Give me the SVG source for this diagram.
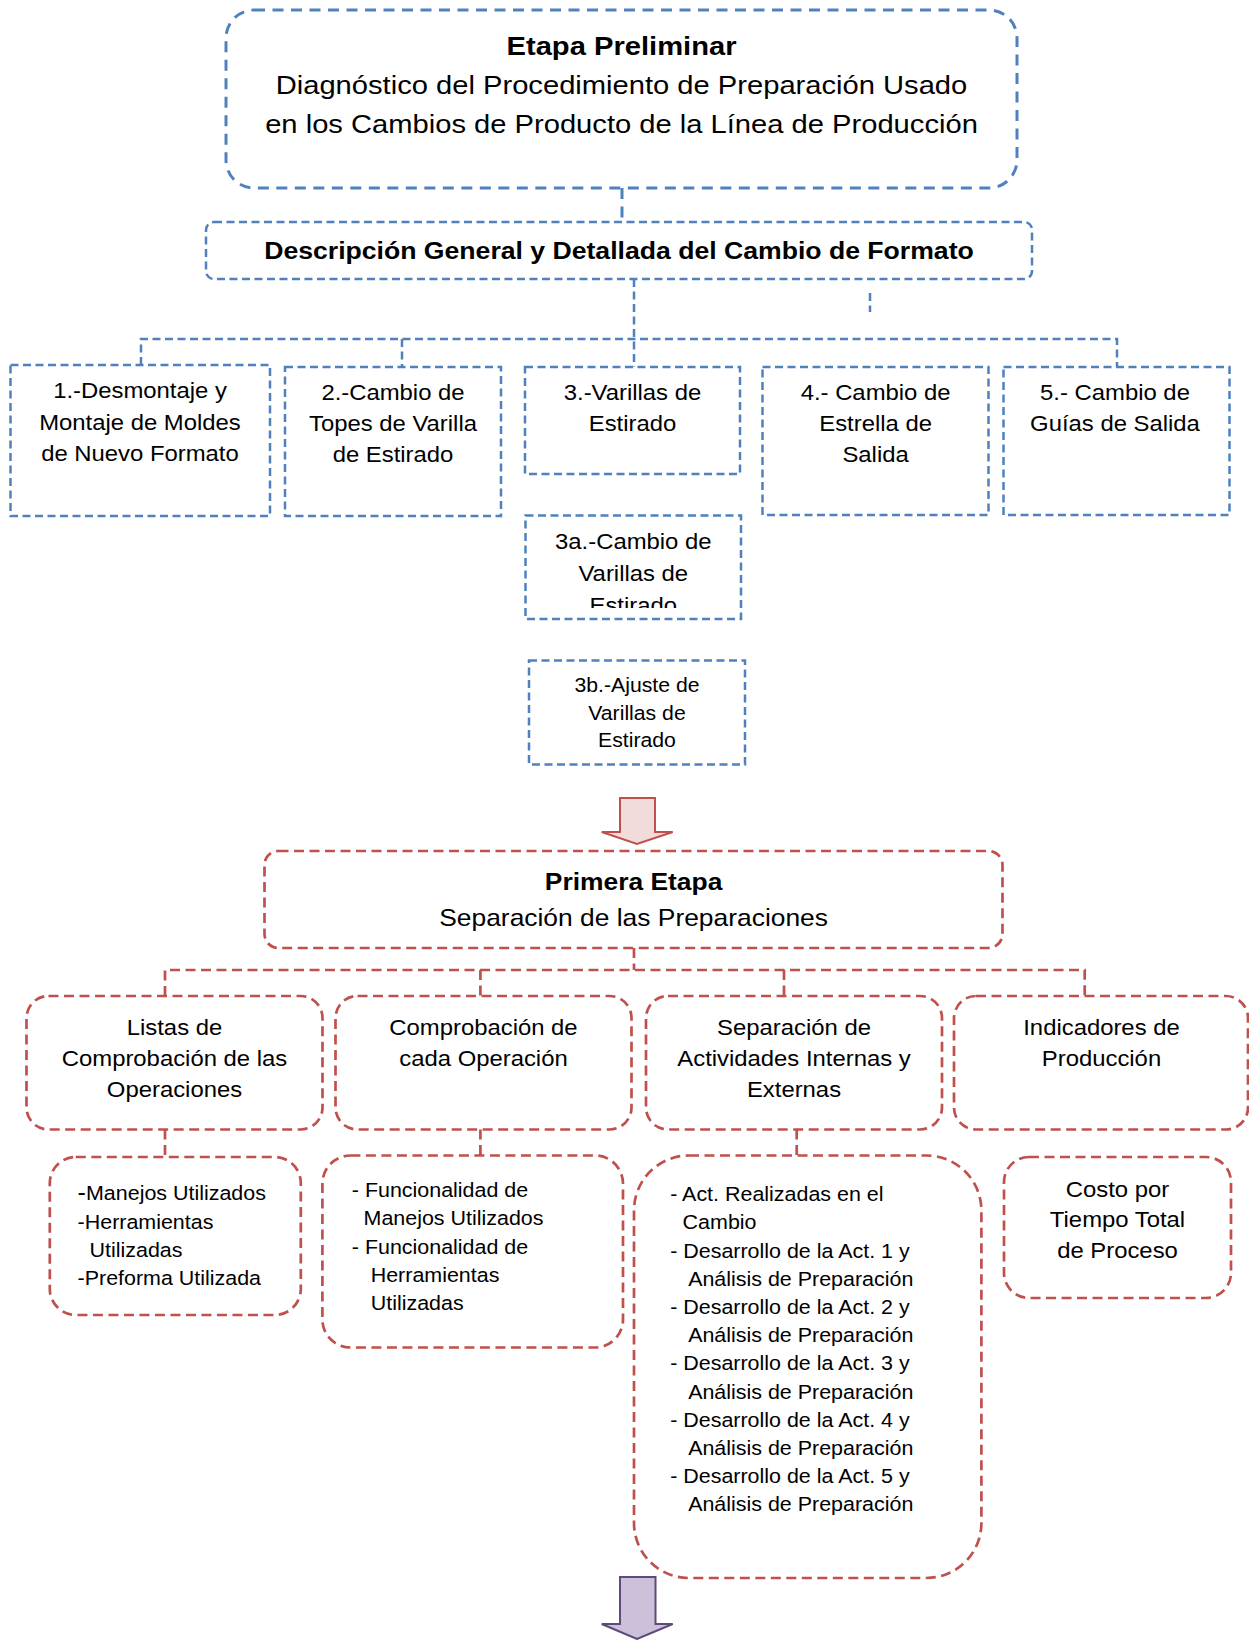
<svg xmlns="http://www.w3.org/2000/svg" width="1249" height="1640" viewBox="0 0 1249 1640">
<style>
text { font-family: "Liberation Sans", Arial, sans-serif; fill: #000; }
.c { text-anchor: middle; }
.b { font-weight: bold; }
.blue { fill: none; stroke: #4f81bd; stroke-width: 2.5; stroke-dasharray: 8 4.5; }
.blueT { fill: none; stroke: #4f81bd; stroke-width: 3; stroke-dasharray: 11 7.5; }
.red { fill: none; stroke: #c0504d; stroke-width: 2.7; stroke-dasharray: 10 5.5; }
.f26 { font-size: 26.5px; }
.f24 { font-size: 24.2px; }
.f22 { font-size: 21.7px; }
.f19 { font-size: 19.5px; }
</style>
<defs>
<clipPath id="clip3a"><rect x="525" y="515" width="217" height="93"/></clipPath>
</defs>
<rect x="0" y="0" width="1249" height="1640" fill="#fff"/>

<g id="connectors">
<line class="blueT" x1="622" y1="188" x2="622" y2="222"/>
<path class="blue" d="M634 279 V367 M141 365 V339 H1117 V367 M402 339 V367"/>
<line class="blue" x1="870" y1="293" x2="870" y2="312"/>
<path class="red" d="M634 948 V970 M165 996 V970 H1084.7 V996 M480.4 970 V996 M784 970 V996"/>
<path class="red" d="M165 1129.5 V1157 M480.4 1129.5 V1155.5 M796.7 1129.5 V1155.5"/>
</g>

<g id="n-preliminar">
<rect class="blueT" x="226" y="10" width="791" height="178" rx="28"/>
<g transform="matrix(1.1 0 0 1 -62.15 0)">
<text class="c b f26" x="621.5" y="55">Etapa Preliminar</text>
<text class="c f26" x="621.5" y="94">Diagnóstico del Procedimiento de Preparación Usado</text>
<text class="c f26" x="621.5" y="133">en los Cambios de Producto de la Línea de Producción</text>
</g>
</g>

<g id="n-descripcion">
<rect class="blue" x="206" y="222" width="826" height="57" rx="8"/>
<g transform="matrix(1.1 0 0 1 -61.9 0)">
<text class="c b f24" x="619" y="259">Descripción General y Detallada del Cambio de Formato</text>
</g>
</g>

<g id="n-1">
<rect class="blue" x="10.5" y="365" width="259.5" height="151"/>
<g transform="matrix(1.1 0 0 1 -14 0)">
<text class="c f22" x="140" y="398">1.-Desmontaje y</text>
<text class="c f22" x="140" y="430">Montaje de Moldes</text>
<text class="c f22" x="140" y="461">de Nuevo Formato</text>
</g>
</g>

<g id="n-2">
<rect class="blue" x="285" y="367" width="216" height="149"/>
<g transform="matrix(1.1 0 0 1 -39.3 0)">
<text class="c f22" x="393" y="400">2.-Cambio de</text>
<text class="c f22" x="393" y="431.5">Topes de Varilla</text>
<text class="c f22" x="393" y="462.5">de Estirado</text>
</g>
</g>

<g id="n-3">
<rect class="blue" x="525" y="367" width="215" height="107"/>
<g transform="matrix(1.1 0 0 1 -63.25 0)">
<text class="c f22" x="632.5" y="400">3.-Varillas de</text>
<text class="c f22" x="632.5" y="431.5">Estirado</text>
</g>
</g>

<g id="n-4">
<rect class="blue" x="762.5" y="367" width="226" height="148"/>
<g transform="matrix(1.1 0 0 1 -87.56 0)">
<text class="c f22" x="875.6" y="400">4.- Cambio de</text>
<text class="c f22" x="875.6" y="431.5">Estrella de</text>
<text class="c f22" x="875.6" y="462.5">Salida</text>
</g>
</g>

<g id="n-5">
<rect class="blue" x="1003.5" y="367" width="226" height="148"/>
<g transform="matrix(1.1 0 0 1 -111.5 0)">
<text class="c f22" x="1115" y="400">5.- Cambio de</text>
<text class="c f22" x="1115" y="431.5">Guías de Salida</text>
</g>
</g>

<g id="n-3a">
<rect class="blue" x="525.5" y="515.5" width="215.5" height="103.5"/>
<g clip-path="url(#clip3a)">
<g transform="matrix(1.1 0 0 1 -63.33 0)">
<text class="c f22" x="633.3" y="549">3a.-Cambio de</text>
<text class="c f22" x="633.3" y="581">Varillas de</text>
<text class="c f22" x="633.3" y="613">Estirado</text>
</g>
</g>
</g>

<g id="n-3b">
<rect class="blue" x="529" y="660.5" width="216" height="104"/>
<g transform="matrix(1.1 0 0 1 -63.7 0)">
<text class="c" style="font-size:19.3px" x="637" y="692.5">3b.-Ajuste de</text>
<text class="c" style="font-size:19.3px" x="637" y="720">Varillas de</text>
<text class="c" style="font-size:19.3px" x="637" y="747.3">Estirado</text>
</g>
</g>

<g id="arrow-1">
<polygon points="620,798 655,798 655,832 672.7,832 637,844 601.7,832 620,832" fill="#f2dcdb" stroke="#c0504d" stroke-width="2"/>
</g>

<g id="n-primera">
<rect class="red" x="264.5" y="851" width="738" height="97" rx="14"/>
<g transform="matrix(1.1 0 0 1 -63.36 0)">
<text class="c b" style="font-size:24px" x="633.6" y="890.5">Primera Etapa</text>
<text class="c" style="font-size:24px" x="633.6" y="926.5">Separación de las Preparaciones</text>
</g>
</g>

<g id="n-listas">
<rect class="red" x="26.5" y="996" width="296" height="133.5" rx="22"/>
<g transform="matrix(1.1 0 0 1 -17.45 0)">
<text class="c f22" x="174.5" y="1035">Listas de</text>
<text class="c f22" x="174.5" y="1066.5">Comprobación de las</text>
<text class="c f22" x="174.5" y="1097">Operaciones</text>
</g>
</g>

<g id="n-comprobacion">
<rect class="red" x="335.5" y="996" width="296" height="133.5" rx="22"/>
<g transform="matrix(1.1 0 0 1 -48.35 0)">
<text class="c f22" x="483.5" y="1035">Comprobación de</text>
<text class="c f22" x="483.5" y="1066.5">cada Operación</text>
</g>
</g>

<g id="n-separacion">
<rect class="red" x="646" y="996" width="296" height="133.5" rx="22"/>
<g transform="matrix(1.1 0 0 1 -79.4 0)">
<text class="c f22" x="794" y="1035">Separación de</text>
<text class="c f22" x="794" y="1066.5">Actividades Internas y</text>
<text class="c f22" x="794" y="1097">Externas</text>
</g>
</g>

<g id="n-indicadores">
<rect class="red" x="954" y="996" width="294" height="133.5" rx="22"/>
<g transform="matrix(1.1 0 0 1 -110.15 0)">
<text class="c f22" x="1101.5" y="1035">Indicadores de</text>
<text class="c f22" x="1101.5" y="1066.5">Producción</text>
</g>
</g>

<g id="n-s1">
<rect class="red" x="49.8" y="1157" width="251" height="158" rx="26"/>
<g transform="matrix(1.1 0 0 1 -7.76 0)">
<text class="f19" x="77.6" y="1200"><tspan style="font-size:23px">-</tspan>Manejos Utilizados</text>
<text class="f19" x="77.6" y="1229">-Herramientas</text>
<text class="f19" x="88.5" y="1257.5">Utilizadas</text>
<text class="f19" x="77.6" y="1285.5">-Preforma Utilizada</text>
</g>
</g>

<g id="n-s2">
<rect class="red" x="322.4" y="1155.5" width="300.6" height="192" rx="28"/>
<g transform="matrix(1.1 0 0 1 -35.18 0)">
<text class="f19" x="351.8" y="1197">- Funcionalidad de</text>
<text class="f19" x="362.5" y="1225">Manejos Utilizados</text>
<text class="f19" x="351.8" y="1254">- Funcionalidad de</text>
<text class="f19" x="369" y="1282">Herramientas</text>
<text class="f19" x="369" y="1310">Utilizadas</text>
</g>
</g>

<g id="n-s3">
<rect class="red" x="634" y="1155.5" width="347.4" height="422.5" rx="55"/>
<g transform="matrix(1.1 0 0 1 -67.02 0)">
<text class="f19" x="670.2" y="1201.5">- Act. Realizadas en el</text>
<text class="f19" x="681.5" y="1229.5">Cambio</text>
<text class="f19" x="670.2" y="1257.7">- Desarrollo de la Act. 1 y</text>
<text class="f19" x="686.5" y="1285.9">Análisis de Preparación</text>
<text class="f19" x="670.2" y="1314.1">- Desarrollo de la Act. 2 y</text>
<text class="f19" x="686.5" y="1342.3">Análisis de Preparación</text>
<text class="f19" x="670.2" y="1370.5">- Desarrollo de la Act. 3 y</text>
<text class="f19" x="686.5" y="1398.7">Análisis de Preparación</text>
<text class="f19" x="670.2" y="1426.9">- Desarrollo de la Act. 4 y</text>
<text class="f19" x="686.5" y="1455.1">Análisis de Preparación</text>
<text class="f19" x="670.2" y="1483.3">- Desarrollo de la Act. 5 y</text>
<text class="f19" x="686.5" y="1511.5">Análisis de Preparación</text>
</g>
</g>

<g id="n-s4">
<rect class="red" x="1004" y="1157" width="227" height="141" rx="25"/>
<g transform="matrix(1.1 0 0 1 -111.75 0)">
<text class="c f22" x="1117.5" y="1197">Costo por</text>
<text class="c f22" x="1117.5" y="1227">Tiempo Total</text>
<text class="c f22" x="1117.5" y="1258">de Proceso</text>
</g>
</g>

<g id="arrow-2">
<polygon points="620,1577 655.5,1577 655.5,1624 672.7,1624 637,1639 601.7,1624 620,1624" fill="#ccc0da" stroke="#604a7b" stroke-width="2"/>
</g>
</svg>
